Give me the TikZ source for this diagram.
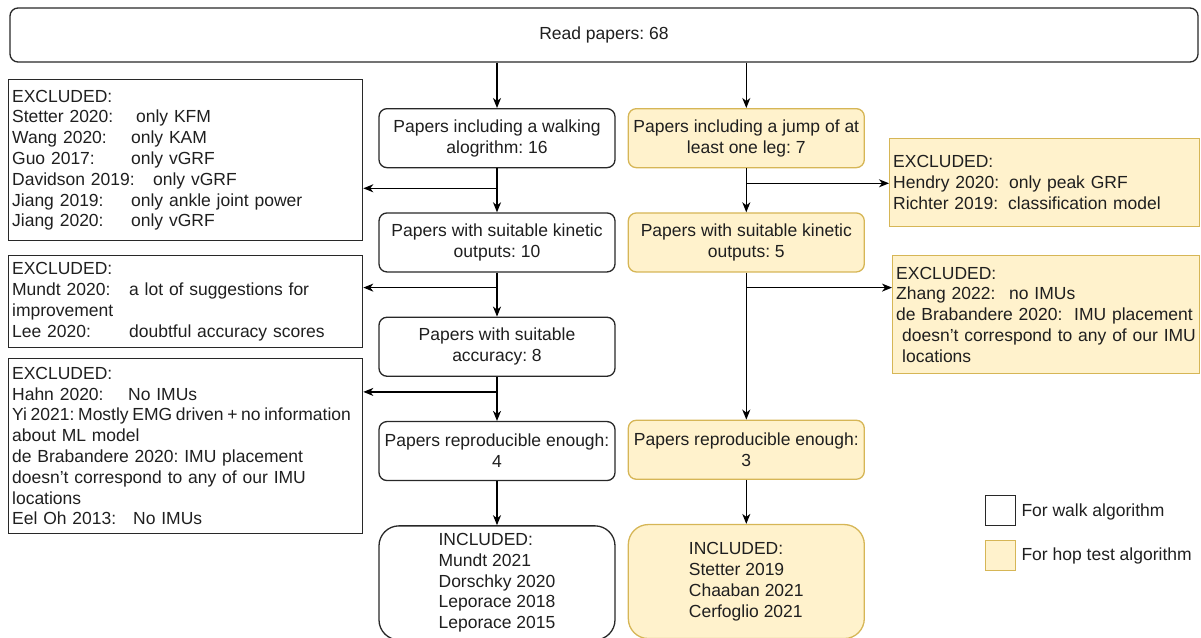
\documentclass[tikz,border=0pt]{standalone}
\usepackage{fontspec}
\setmainfont{Liberation Sans}
\usepackage{xcolor}
\usetikzlibrary{positioning,arrows.meta,calc}
\definecolor{hopfill}{HTML}{FFF2CC}
\definecolor{hopdraw}{HTML}{D6B656}
\definecolor{walkdraw}{RGB}{40,40,40}
\newcommand{\tabbed}[2][119pt]{\makebox[#1][l]{#2}}
\tikzset{
  every node/.style={font=\fontsize{17.5}{20.8}\selectfont\frenchspacing, text=black!88},
  box/.style={draw=walkdraw, line width=1.3pt, rounded corners=8pt, minimum width=236pt,
              minimum height=59pt, align=center, inner sep=2pt},
  walkbox/.style={box, fill=white},
  hopbox/.style={box, draw=hopdraw, fill=hopfill},
  inclwalk/.style={walkbox, rounded corners=20pt, minimum height=114pt, align=left},
  inclhop/.style={hopbox, rounded corners=20pt, minimum height=114pt, align=left},
  exclbox/.style={draw=walkdraw, line width=1.3pt, anchor=north west, align=left,
                  inner xsep=3.5pt, inner ysep=2pt},
  exclhop/.style={exclbox, draw=hopdraw, fill=hopfill},
  keybox/.style={draw=walkdraw, line width=1.3pt, minimum size=30pt, inner sep=0pt, anchor=north west},
  arrow/.style={-{Stealth[length=10pt, width=8pt, inset=3pt]}, line width=1.3pt},
}
\begin{document}
\begin{tikzpicture}[x=1pt, y=-1pt]
  \useasboundingbox (0,0) rectangle (1201,637);

  \node[walkbox, minimum width=1188pt, minimum height=54pt] (read) at (604,35) {Read papers: 68};

  % walk column
  \node[walkbox, anchor=north] (walk1) at (497,108) {Papers including a walking\\alogrithm: 16};
  \node[walkbox, below=44pt of walk1] (walk2) {Papers with suitable kinetic\\outputs: 10};
  \node[walkbox, below=44pt of walk2] (walk3) {Papers with suitable\\accuracy: 8};
  \node[walkbox, below=44pt of walk3] (walk4) {Papers reproducible enough:\\4};
  \node[inclwalk, below=44pt of walk4] (walk5) {INCLUDED:\\Mundt 2021\\Dorschky 2020\\Leporace 2018\\Leporace 2015};

  % hop column
  \node[hopbox, right=12pt of walk1] (hop1) {Papers including a jump of at\\least one leg: 7};
  \node[hopbox, below=44pt of hop1] (hop2) {Papers with suitable kinetic\\outputs: 5};
  \node[hopbox, below=147pt of hop2] (hop4) {Papers reproducible enough:\\3};
  \node[inclhop, below=44pt of hop4] (hop5) {INCLUDED:\\Stetter 2019\\Chaaban 2021\\Cerfoglio 2021};

  % excluded
  \node[exclbox, text width=347pt, minimum height=161pt] (excl1) at (8,79)
    {EXCLUDED:\\\tabbed[124pt]{Stetter 2020:}only KFM\\\tabbed{Wang 2020:}only KAM\\
     \tabbed{Guo 2017:}only vGRF\\\tabbed[141pt]{Davidson 2019:}only vGRF\\
     \tabbed{Jiang 2019:}only ankle joint power\\\tabbed{Jiang 2020:}only vGRF};
  \node[exclbox, text width=347pt, minimum height=92pt] (excl2) at (8,255)
    {EXCLUDED:\\\tabbed[117pt]{Mundt 2020:}a lot of suggestions for\\improvement\\
     \tabbed[117pt]{Lee 2020:}doubtful accuracy scores};
  \node[exclbox, text width=347pt, minimum height=175pt] (excl3) at (8,358)
    {EXCLUDED:\\\tabbed[116pt]{Hahn 2020:}No IMUs\\
     \mbox{\spaceskip=0.21em Yi 2021: Mostly EMG driven + no information}\\
     about ML model\\de Brabandere 2020: IMU placement\\doesn't correspond to any of our IMU\\
     locations\\\tabbed[121pt]{Eel Oh 2013:}No IMUs};
  \node[exclhop, text width=303pt, minimum height=88pt] (exclA) at (889,138)
    {EXCLUDED:\\\tabbed[116pt]{Hendry 2020:}only peak GRF\\\tabbed[115pt]{Richter 2019:}classification model};
  \node[exclhop, text width=300pt, minimum height=118pt] (exclB) at (892,255)
    {EXCLUDED:\\\tabbed[113pt]{Zhang 2022:}no IMUs\\\mbox{de Brabandere 2020:\ \ IMU placement}\\
     \mbox{\hspace*{6pt}doesn't correspond to any of our IMU}\\\hspace*{6pt}locations};

  % legend
  \node[keybox, fill=white] (keywalk) at (985,495) {};
  \node[keybox, draw=hopdraw, fill=hopfill] (keyhop) at (985,540) {};
  \node[anchor=west, inner sep=0pt] (keywalktext) at ($(keywalk.east)+(5,1)$) {For walk algorithm};
  \node[anchor=west, inner sep=0pt] (keyhoptext) at ($(keyhop.east)+(5,0)$) {For hop test algorithm};

  % junctions
  \coordinate (w1) at ($(walk1.south)+(0,20)$);
  \coordinate (w2) at ($(walk2.south)+(0,15)$);
  \coordinate (w3) at ($(walk3.south)+(0,15)$);
  \coordinate (h1) at ($(hop1.south)+(0,15)$);
  \coordinate (h2) at ($(hop2.south)+(0,15)$);

  \draw[arrow] (read.south -| walk1.north) -- (walk1.north);
  \draw[arrow] (read.south -| hop1.north) -- (hop1.north);
  \draw[arrow] (walk1) -- (walk2);
  \draw[arrow] (walk2) -- (walk3);
  \draw[arrow] (walk3) -- (walk4);
  \draw[arrow] (walk4) -- (walk5);
  \draw[arrow] (hop1) -- (hop2);
  \draw[arrow] (hop2) -- (hop4);
  \draw[arrow] (hop4) -- (hop5);
  \draw[arrow] (w1) -- (w1 -| excl1.east);
  \draw[arrow] (w2) -- (w2 -| excl2.east);
  \draw[arrow] (w3) -- (w3 -| excl3.east);
  \draw[arrow] (h1) -- (h1 -| exclA.west);
  \draw[arrow] (h2) -- (h2 -| exclB.west);
\end{tikzpicture}
\end{document}
